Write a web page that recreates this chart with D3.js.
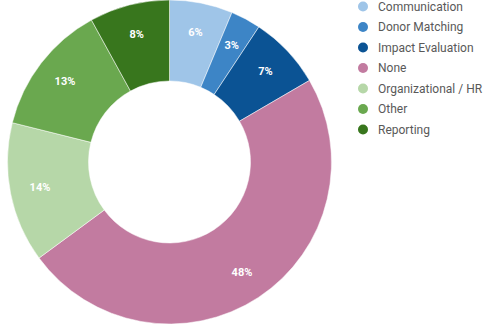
<!DOCTYPE html>
<html><head><meta charset="utf-8">
<script src="https://cdn.jsdelivr.net/npm/d3@7"></script>
<style>body{margin:0;background:#fff;}svg{display:block;}</style>
</head><body>
<svg id="c" width="484" height="325"></svg>
<script>
const categories = ["Communication","Donor Matching","Impact Evaluation","None","Organizational / HR","Other","Reporting"];
const values = [6.3, 3.0, 7.3, 48.3, 14.0, 13.1, 8.0];
const colors = ["#9fc5e8","#3d85c6","#0b5394","#c27ba0","#b6d7a8","#6aa84f","#38761d"];

const svg = d3.select("#c");
const cx = 169.5, cy = 162, R = 162, r = 81, labelR = 132;
const total = d3.sum(values);
const pie = d3.pie().sort(null).value(d => d.v);
const arcs = pie(categories.map((c,i)=>({c, v: values[i], col: colors[i]})));
const arc = d3.arc().innerRadius(r).outerRadius(R);
const larc = d3.arc().innerRadius(labelR).outerRadius(labelR);
const g = svg.append("g").attr("transform",`translate(${cx},${cy})`);
g.selectAll("path").data(arcs).join("path")
  .attr("d", arc).attr("fill", d=>d.data.col).attr("stroke","#fff").attr("stroke-width",0.5);
g.selectAll("text").data(arcs).join("text")
  .attr("transform", d=>`translate(${larc.centroid(d)})`)
  .attr("text-anchor","middle").attr("dy","0.35em")
  .attr("font-family","Roboto, sans-serif").attr("font-weight","bold").attr("font-size",11)
  .attr("fill","#fff")
  .text(d=>Math.round(d.data.v/total*100)+"%");

const leg = svg.append("g").attr("transform","translate(363,6.5)");
const y = d3.scalePoint().domain(categories).range([0, 123]);
const items = leg.selectAll("g").data(categories).join("g").attr("transform", d=>`translate(0,${y(d)})`);
items.append("circle").attr("r",5).attr("fill",(d,i)=>colors[i]);
items.append("text").attr("x",15).attr("dy","0.35em")
  .attr("font-family","Roboto, sans-serif").attr("font-size",12).attr("fill","#595959")
  .text(d=>d);
</script>
</body></html>
